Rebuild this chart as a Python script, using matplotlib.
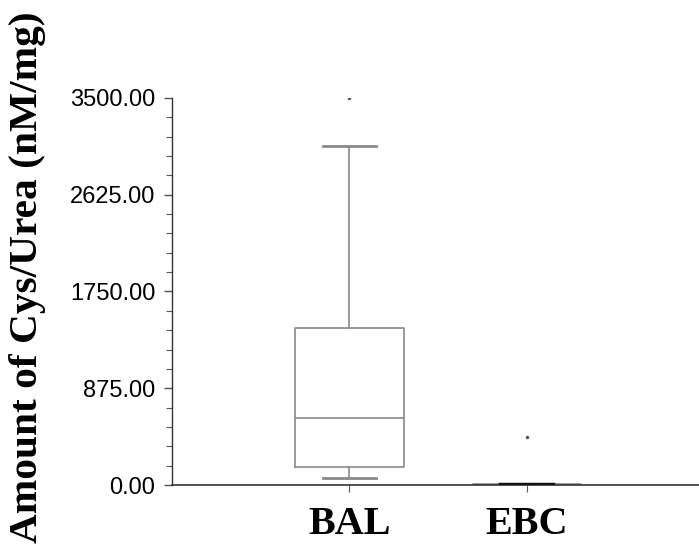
import matplotlib
matplotlib.use("Agg")
import matplotlib.pyplot as plt
from matplotlib.ticker import MultipleLocator, FuncFormatter

groups = ["BAL", "EBC"]
q1 = [163, 1]
med = [606, 3]
q3 = [1420, 6]
whislo = [63, 0]
whishi = [3065, 8]
fliers = [[3500], [434]]
yticks = [0, 875, 1750, 2625, 3500]

W, H = 699, 546
fig = plt.figure(figsize=(W/100, H/100), dpi=100)
ax = fig.add_axes([172/W, (H-485)/H, (W-172)/W, (485-98)/H])

stats = []
for i, g in enumerate(groups):
    stats.append(dict(label=g, q1=q1[i], med=med[i], q3=q3[i],
                      whislo=whislo[i], whishi=whishi[i], fliers=fliers[i]))

gray = "#8a8a8a"
arts = ax.bxp(stats, positions=[1, 2], widths=0.61, showfliers=True,
              boxprops=dict(color=gray, linewidth=1.2),
              whiskerprops=dict(color=gray, linewidth=1.2),
              capprops=dict(color=gray, linewidth=2.0),
              medianprops=dict(color=gray, linewidth=1.2),
              flierprops=dict(marker='o', markersize=1.5, markerfacecolor='#555555',
                              markeredgecolor='#555555'),
              capwidths=0.3)
# EBC caps overlap into a dark segment on the axis
for c in arts['caps'][2:]:
    c.set_color("#111111")
    c.set_linewidth(2.5)
    c.set_zorder(5)

ax.set_xlim(0, 2.97)
ax.set_ylim(0, 3500)
ax.set_yticks(yticks)
ax.yaxis.set_minor_locator(MultipleLocator(175))
ax.yaxis.set_major_formatter(FuncFormatter(lambda v, p: f"{v:.2f}"))
for s in ["top", "right"]:
    ax.spines[s].set_visible(False)
ax.spines["left"].set_color("#333333")
ax.spines["bottom"].set_color("#333333")
ax.spines["left"].set_linewidth(1.0)
ax.spines["bottom"].set_linewidth(1.2)
ax.tick_params(axis='y', which='major', length=6, width=1, color="#555555", pad=6,
               labelsize=17)
ax.tick_params(axis='y', which='minor', length=4, width=0.8, color="#555555")
ax.tick_params(axis='x', which='major', length=5, width=0.8, color="#555555", pad=10)
for lab in ax.get_yticklabels():
    lab.set_family(["Liberation Sans", "DejaVu Sans"])
ax.set_xticks([1, 2])
ax.set_xticklabels(groups, family=["Liberation Serif", "DejaVu Serif"],
                   fontweight='bold', fontsize=29)

# y label placed as figure text, sized to span the reference length
fs = 27
lbl = fig.text(28/W, 1 - 277/H, "Amount of Cys/Urea (nM/mg)", rotation=90,
               ha='center', va='center', family=["Liberation Serif", "DejaVu Serif"],
               fontweight='bold', fontsize=fs)
fig.canvas.draw()
r = fig.canvas.get_renderer()
h = lbl.get_window_extent(r).height
lbl.set_fontsize(fs * 531 / h)

fig.savefig("out.png", dpi=100)
